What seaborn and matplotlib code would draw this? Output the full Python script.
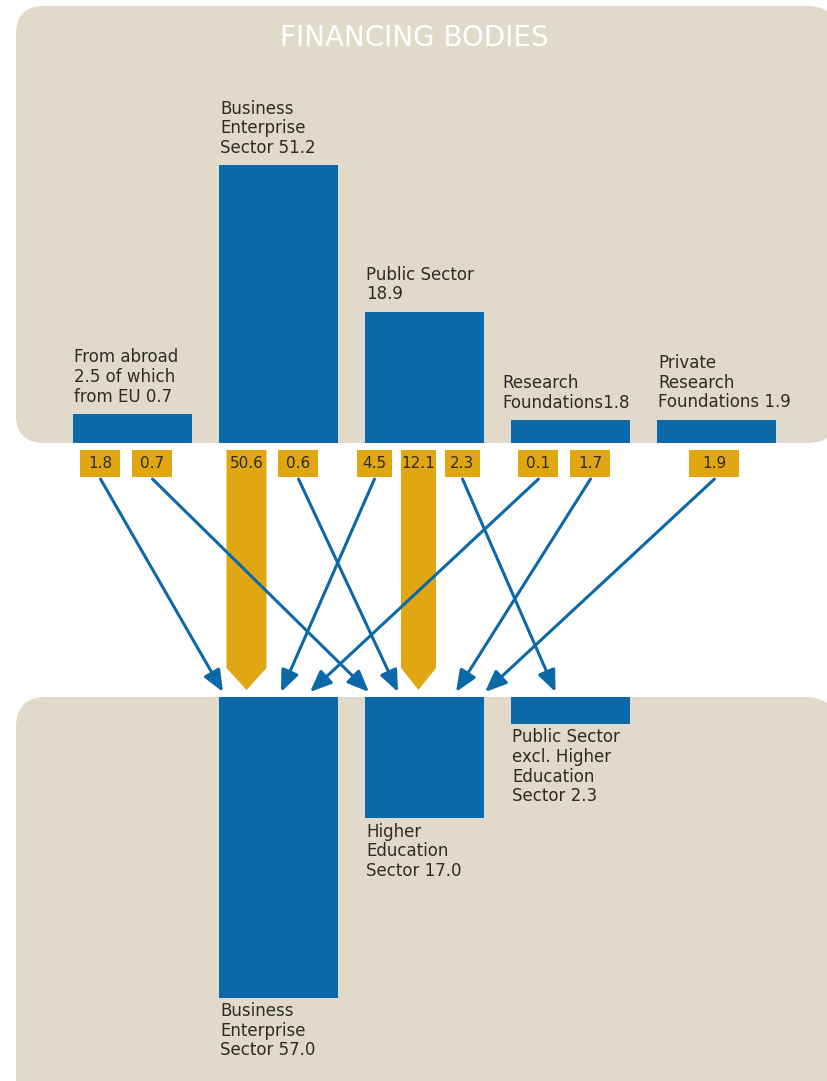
import matplotlib
matplotlib.use('Agg')
import matplotlib.pyplot as plt
from matplotlib.patches import FancyBboxPatch, Polygon, FancyArrowPatch, Rectangle
import numpy as np
import pandas as pd
import seaborn as sns

# financing bodies (top panel)
bodies = ['From abroad', 'Business Enterprise', 'Public Sector',
          'Research Foundations', 'Private Research Foundations']
body_values = [2.5, 51.2, 18.9, 1.8, 1.9]
body_labels = ['From abroad\n2.5 of which\nfrom EU 0.7',
               'Business\nEnterprise\nSector 51.2',
               'Public Sector\n18.9',
               'Research\nFoundations1.8',
               'Private\nResearch\nFoundations 1.9']

# performing sectors (bottom panel)
sectors = ['Business Enterprise Sector', 'Higher Education Sector',
           'Public Sector excl. Higher Education']
sector_values = [57.0, 17.0, 2.3]
sector_labels = ['Business\nEnterprise\nSector 57.0',
                 'Higher\nEducation\nSector 17.0',
                 'Public Sector\nexcl. Higher\nEducation\nSector 2.3']

# flows financing body -> performing sector
flow_from = ['From abroad', 'From abroad',
             'Business Enterprise', 'Business Enterprise',
             'Public Sector', 'Public Sector', 'Public Sector',
             'Research Foundations', 'Research Foundations',
             'Private Research Foundations']
flow_to = ['Business Enterprise Sector', 'Higher Education Sector',
           'Business Enterprise Sector', 'Higher Education Sector',
           'Business Enterprise Sector', 'Higher Education Sector',
           'Public Sector excl. Higher Education',
           'Business Enterprise Sector', 'Higher Education Sector',
           'Higher Education Sector']
flow_values = [1.8, 0.7, 50.6, 0.6, 4.5, 12.1, 2.3, 0.1, 1.7, 1.9]

BLUE = '#0b69a8'
GOLD = '#e0a713'
BEIGE = '#e1dacb'
INK = '#2e2b27'

W, H = 828, 1081
COL = 146.0                      # px between columns
X0 = 132.5                       # px of first column centre
TOP_BASE, BOT_BASE = 443, 697    # px baselines of the two panels
K = 14.5                         # px per (value ** 0.75)

def fwd(v):
    v = np.asarray(v, dtype=float)
    return np.sign(v) * np.abs(v) ** 0.75

def inv(u):
    u = np.asarray(u, dtype=float)
    return np.sign(u) * np.abs(u) ** (4 / 3)

px = lambda p: p / COL
xlim = (-X0 / COL, (W - X0) / COL)

fig = plt.figure(figsize=(W / 100, H / 100), dpi=100)
fig.patch.set_facecolor('white')

# beige rounded panels
top_panel = FancyBboxPatch((0.16, (H - TOP_BASE) / 100), 8.2, (TOP_BASE - 6) / 100,
                           boxstyle='round,pad=0,rounding_size=0.28',
                           transform=fig.dpi_scale_trans, fc=BEIGE, ec='none', zorder=-5)
bot_panel = FancyBboxPatch((0.16, -0.5), 8.2, (H - BOT_BASE) / 100 + 0.5,
                           boxstyle='round,pad=0,rounding_size=0.3',
                           transform=fig.dpi_scale_trans, fc=BEIGE, ec='none', zorder=-5)
fig.patches.extend([top_panel, bot_panel])

ax_top = fig.add_axes([0, 1 - TOP_BASE / H, 1, TOP_BASE / H])
ax_mid = fig.add_axes([0, 1 - BOT_BASE / H, 1, (BOT_BASE - TOP_BASE) / H])
ax_bot = fig.add_axes([0, 0, 1, 1 - BOT_BASE / H])

bar_w = 119 / COL

# top bars
top_df = pd.DataFrame({'body': bodies, 'value': body_values})
sns.barplot(data=top_df, x='body', y='value', order=bodies, color=BLUE,
            saturation=1, width=bar_w, errorbar=None, ax=ax_top)
ax_top.set_yscale('function', functions=(fwd, inv))
ax_top.set_ylim(0, float(inv(TOP_BASE / K)))

# bottom bars, sitting under columns 1..3
slots = ['_a'] + sectors + ['_b']
bot_df = pd.DataFrame({'sector': sectors, 'value': sector_values})
sns.barplot(data=bot_df, x='sector', y='value', order=slots, color=BLUE,
            saturation=1, width=bar_w, errorbar=None, ax=ax_bot)
ax_bot.set_yscale('function', functions=(fwd, inv))
ax_bot.set_ylim(float(inv((H - BOT_BASE) / K)), 0)

for ax in (ax_top, ax_mid, ax_bot):
    ax.set_xlim(*xlim)
    ax.set_facecolor('none')
    ax.axis('off')

ax_mid.set_ylim(BOT_BASE - TOP_BASE, 0)

txt = dict(fontsize=12, color=INK, linespacing=1.12, family='DejaVu Sans')

for i, (v, lab) in enumerate(zip(body_values, body_labels)):
    dx = -0.07 if lab.startswith('Research') else 0.0
    ax_top.annotate(lab, xy=(i - bar_w / 2 + 0.01 + dx, v), xytext=(0, 6),
                    textcoords='offset points', ha='left', va='bottom', **txt)

for j, (v, lab) in enumerate(zip(sector_values, sector_labels)):
    ax_bot.annotate(lab, xy=(j + 1 - bar_w / 2 + 0.01, v), xytext=(0, -3),
                    textcoords='offset points', ha='left', va='top', **txt)

ax_top.text(0.5, 1 - 38 / TOP_BASE, 'FINANCING BODIES', transform=ax_top.transAxes,
            ha='center', va='center', fontsize=20, color='white', family='DejaVu Sans')

# flows
src_col = [bodies.index(s) for s in flow_from]
dst_col = [sectors.index(t) + 1 for t in flow_to]
spacing = {1: 0, 2: 52, 3: 44}
box_w = {1: 50, 2: 40, 3: 35}

box_x = []
for k, c in enumerate(src_col):
    members = [m for m, cc in enumerate(src_col) if cc == c]
    n = len(members)
    r = members.index(k)
    shift = -2 if n == 1 else -6
    box_x.append(c + px((r - (n - 1) / 2) * spacing[n] + shift))

BOX_T, BOX_B = 7, 34
TIP = 249
for k, (c, d, v) in enumerate(zip(src_col, dst_col, flow_values)):
    n = src_col.count(c)
    bw = px(box_w[n])
    bx = box_x[k]
    if c == d:
        # main flow: gold chevron
        poly = Polygon([(bx - bw / 2, BOX_T), (bx + bw / 2, BOX_T),
                        (bx + bw / 2, TIP - 24), (bx, TIP - 2),
                        (bx - bw / 2, TIP - 24)], closed=True, fc=GOLD, ec='none', zorder=2)
        ax_mid.add_patch(poly)
    else:
        ax_mid.add_patch(Rectangle((bx - bw / 2, BOX_T), bw, BOX_B - BOX_T,
                                   fc=GOLD, ec='none', zorder=2))
    ax_mid.text(bx, (BOX_T + BOX_B) / 2, f'{v:.1f}', ha='center', va='center',
                fontsize=11, color=INK, zorder=5, family='DejaVu Sans')

for k, (c, d) in enumerate(zip(src_col, dst_col)):
    if c == d:
        continue
    incoming = [m for m, dd in enumerate(dst_col) if dd == d]
    rank = incoming.index(k)
    left = d - bar_w / 2
    if len(incoming) == 1:
        tx = d - px(15)
    else:
        tx = left + px(4 + rank * 29)
    arr = FancyArrowPatch((box_x[k], BOX_B + 2), (tx, TIP),
                          arrowstyle='-|>,head_length=1.0,head_width=0.42',
                          mutation_scale=13, lw=2.2, color=BLUE,
                          shrinkA=0, shrinkB=0, zorder=4)
    ax_mid.add_patch(arr)

plt.savefig('out.png', dpi=100, facecolor='white')
